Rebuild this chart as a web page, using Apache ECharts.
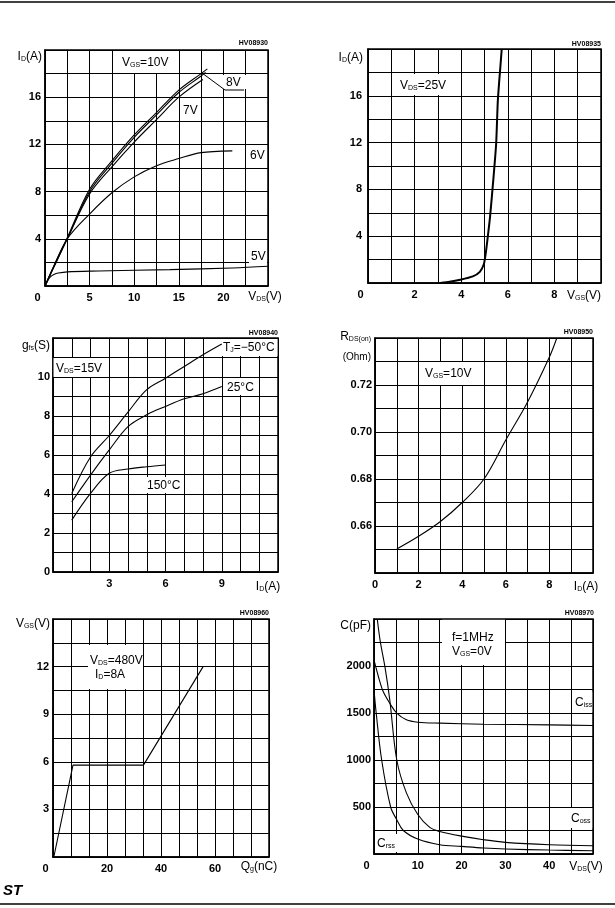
<!DOCTYPE html>
<html>
<head>
<meta charset="utf-8">
<script src="https://cdn.jsdelivr.net/npm/echarts@6/dist/echarts.min.js"></script>
<style>
html,body{margin:0;padding:0;background:#fff;}
#c{width:615px;height:908px;}
</style>
</head>
<body>
<div id="c"></div>
<script>
// ---------- DATA ----------
// Chart 1: Output characteristics ID vs VDS
const c1Vgs10 = [[0,0],[1,1.7],[2.5,4.1],[5,8.2],[7.5,10.6],[10,12.8],[12.5,14.7],[15,16.6],[17.5,18.0],[18.2,18.4]];
const c1Vgs8  = [[0,0],[1,1.65],[2.5,4.0],[5,8.0],[7.5,10.4],[10,12.6],[12.5,14.5],[15,16.4],[17.5,17.8],[18.0,18.1]];
const c1Vgs7  = [[0,0],[1,1.6],[2.5,4.0],[5,7.8],[7.5,10.1],[10,12.2],[12.5,14.1],[15,16.0],[17.7,17.5]];
const c1Vgs6  = [[0,0],[1,1.7],[2.5,4.0],[5,6.1],[7.5,7.9],[10,9.25],[12.5,10.2],[15,10.8],[17.5,11.3],[21,11.45]];
const c1Vgs5  = [[0,0],[0.3,0.45],[0.6,0.78],[1,0.98],[1.5,1.1],[2.5,1.2],[6,1.27],[14,1.39],[21,1.53],[25,1.67]];
const c1XLabels = [0,5,10,15,20];
const c1YLabels = [4,8,12,16];

// Chart 2: Transfer characteristics ID vs VGS
const c2Id = [[3.1,0],[3.5,0.1],[3.96,0.28],[4.5,0.57],[4.8,0.95],[4.97,1.6],[5.05,2.5],[5.12,3.6],[5.24,5.7],[5.39,9.1],[5.5,11.9],[5.57,15.5],[5.63,17.2],[5.67,18.2],[5.74,20]];
const c2XLabels = [0,2,4,6,8];
const c2YLabels = [4,8,12,16];

// Chart 3: Transconductance gfs vs ID
const c3TjM50 = [[1,4.03],[2,5.9],[3,7.0],[4,8.2],[5,9.35],[6,9.94],[7,10.54],[8,11.14],[9,11.69]];
const c3Tj25  = [[1,3.6],[2,4.97],[3,6.26],[4,7.46],[5,8.06],[6,8.49],[7,8.88],[8,9.14],[9,9.51]];
const c3Tj150 = [[1,2.66],[2,4.03],[3,5.06],[4,5.28],[5,5.4],[6,5.49]];
const c3XLabels = [3,6,9];
const c3YLabels = [0,2,4,6,8,10];

// Chart 4: Static drain-source on resistance
const c4Rds = [[1,0.6502],[2,0.6556],[3,0.6619],[4,0.67],[5,0.68],[6,0.6966],[7,0.7128],[8,0.7319],[8.34,0.74]];
const c4XLabels = [0,2,4,6,8];
const c4YLabels = [0.66,0.68,0.70,0.72];

// Chart 5: Gate charge vs gate-source voltage
const c5Vgs = [[0.3,0],[7.4,5.79],[33.5,5.79],[55.6,12.0]];
const c5XLabels = [0,20,40,60];
const c5YLabels = [3,6,9,12];

// Chart 6: Capacitance variations
const c6Ciss = [[0,2064],[1,1888],[2.1,1728],[3.6,1604],[5.2,1498],[7.4,1427],[10,1402],[15,1392],[25,1381],[40,1374],[50,1367]];
const c6Coss = [[0.75,2500],[1.4,2270],[2.5,1990],[3.6,1640],[5.2,1000],[7.4,650],[10,420],[12.8,280],[15,240],[20,190],[25,152],[30,124],[40,99],[50,88]];
const c6Crss = [[0,1746],[0.5,1500],[1.75,1000],[3.8,500],[5.2,365],[6.7,250],[10,159],[15,99],[20,81],[25,64],[30,53],[40,42],[50,35]];
const c6XLabels = [0,10,20,30,40];
const c6YLabels = [500,1000,1500,2000];

// ---------- LAYOUT / STYLE ----------
const FONT = '"Liberation Sans", Arial, Helvetica, sans-serif';
const grids = [
  {left:45, top:50, width:223, height:236},
  {left:368, top:49, width:233, height:234},
  {left:53, top:338, width:225, height:234},
  {left:375, top:338, width:218, height:235},
  {left:53, top:619, width:216, height:238},
  {left:374, top:619, width:219, height:235}
];
const axes = [
  {x:[0,25,2.5], y:[0,20,2], xl:c1XLabels, yl:c1YLabels, shift0:true, ym:4},
  {x:[0,10,1], y:[0,20,2], xl:c2XLabels, yl:c2YLabels, shift0:true, ym:6},
  {x:[0,12,1], y:[0,12,1], xl:c3XLabels, yl:c3YLabels, shift0:false, ym:3},
  {x:[0,10,1], y:[0.64,0.74,0.01], xl:c4XLabels, yl:c4YLabels, shift0:false, ym:3, ydec:2},
  {x:[0,80,80/12], y:[0,15,1.5], xl:c5XLabels, yl:c5YLabels, shift0:true, ym:4},
  {x:[0,50,5], y:[0,2500,250], xl:c6XLabels, yl:c6YLabels, shift0:true, ym:3}
];

function fmt(list, dec, shift0) {
  return function (v) {
    const hit = list.find(l => Math.abs(l - v) < 1e-6);
    if (hit === undefined) return '';
    const s = dec ? hit.toFixed(dec) : String(hit);
    return (shift0 && hit === 0) ? '{z|' + s + '}' : s;
  };
}
const labelBase = {color:'#000', fontSize:11, fontWeight:'bold', fontFamily:FONT};

const xAxis = [], yAxis = [];
axes.forEach((a, i) => {
  xAxis.push({
    type:'value', gridIndex:i, min:a.x[0], max:a.x[1], interval:a.x[2],
    axisLine:{show:true, onZero:false, lineStyle:{color:'#000', width:1.5}},
    axisTick:{show:false},
    splitLine:{show:true, lineStyle:{color:'#000', width:1}},
    axisLabel:Object.assign({margin:6, showMinLabel:true, showMaxLabel:true,
      formatter:fmt(a.xl, 0, a.shift0), rich:{z:{padding:[0,15,0,0], fontSize:11, fontWeight:'bold', fontFamily:FONT, color:'#000'}}}, labelBase)
  });
  yAxis.push({
    type:'value', gridIndex:i, min:a.y[0], max:a.y[1], interval:a.y[2],
    axisLine:{show:true, onZero:false, lineStyle:{color:'#000', width:1.5}},
    axisTick:{show:false},
    splitLine:{show:true, lineStyle:{color:'#000', width:1}},
    axisLabel:Object.assign({margin:a.ym, showMinLabel:true, showMaxLabel:true,
      formatter:fmt(a.yl, a.ydec || 0, false)}, labelBase)
  });
});

function line(i, data, opts) {
  return Object.assign({
    type:'line', xAxisIndex:i, yAxisIndex:i, data:data,
    symbol:'none', showSymbol:false, smooth:0.35,
    lineStyle:{color:'#000', width:1.1}, clip:true, silent:true, z:3
  }, opts || {});
}
const series = [
  line(0, c1Vgs10), line(0, c1Vgs8), line(0, c1Vgs7), line(0, c1Vgs6), line(0, c1Vgs5),
  line(1, c2Id, {smooth:0.2, lineStyle:{color:'#000', width:2}}),
  line(2, c3TjM50), line(2, c3Tj25), line(2, c3Tj150),
  line(3, c4Rds),
  line(4, c5Vgs, {smooth:false}),
  line(5, c6Ciss), line(5, c6Coss), line(5, c6Crss)
];

// ---------- TEXT ANNOTATIONS ----------
const rich = {
  n:{fontSize:12, fontFamily:FONT, fill:'#000', color:'#000', lineHeight:14, verticalAlign:'bottom'},
  s:{fontSize:7, fontFamily:FONT, fill:'#000', color:'#000', lineHeight:11, verticalAlign:'bottom'}
};
function rt(parts) {
  return parts.map(p => p.charAt(0) === '_' ? '{s|' + p.slice(1) + '}' : '{n|' + p + '}').join('');
}
function T(x, y, parts, align, size) {
  const r = JSON.parse(JSON.stringify(rich));
  if (size) { r.n.fontSize = size; }
  return {type:'text', x:x, y:y, z:60, silent:true,
    style:{text:rt(parts), rich:r, fill:'#000', align:align || 'left', textAlign:align || 'left',
      verticalAlign:'middle', textVerticalAlign:'middle'}};
}
function code(xRight, y, s) {
  return {type:'text', x:xRight, y:y, z:60, silent:true,
    style:{text:s, fill:'#000', font:'bold 7px ' + FONT, align:'right', textAlign:'right',
      verticalAlign:'middle', textVerticalAlign:'middle'}};
}
function box(x1, y1, x2, y2) {
  return {type:'rect', z:50, silent:true, shape:{x:x1, y:y1, width:x2 - x1, height:y2 - y1}, style:{fill:'#fff'}};
}

const graphic = [
  // page rules
  {type:'line', z:60, shape:{x1:0, y1:2, x2:615, y2:2}, style:{stroke:'#000', lineWidth:1.5}},
  {type:'line', z:60, shape:{x1:0, y1:904, x2:615, y2:904}, style:{stroke:'#000', lineWidth:1.5}},
  {type:'text', z:60, x:3, y:891, style:{text:'ST', fill:'#000', font:'italic bold 15px ' + FONT,
    align:'left', textAlign:'left', verticalAlign:'middle', textVerticalAlign:'middle'}},

  // chart 1
  code(268, 43, 'HV08930'),
  T(42, 56, ['I','_D','(A)'], 'right'),
  box(113, 51, 173, 73), T(122, 62, ['V','_GS','=10V']),
  box(223, 75, 247, 89), T(226, 82, ['8V']),
  {type:'polyline', z:60, shape:{points:[[202,73],[225,90],[244,90]]}, style:{stroke:'#000', fill:null, lineWidth:1}},
  box(181, 102, 199, 118), T(183, 110, ['7V']),
  box(248, 148, 266, 163), T(250, 155, ['6V']),
  box(249, 249, 267, 263), T(251, 256, ['5V']),
  T(265, 296, ['V','_DS','(V)'], 'center'),

  // chart 2
  code(601, 44, 'HV08935'),
  T(363, 57, ['I','_D','(A)'], 'right'),
  box(397, 74, 450, 95), T(400, 85, ['V','_DS','=25V']),
  T(584, 295, ['V','_GS','(V)'], 'center'),

  // chart 3
  code(278, 333, 'HV08940'),
  T(50, 345, ['g','_fs','(S)'], 'right'),
  box(53.5, 358, 107, 377), T(56, 368, ['V','_DS','=15V']),
  box(222, 339, 277.5, 356), T(223, 347, ['T','_J','=\u221250\u00b0C']),
  box(223, 378, 257, 395), T(227, 387, ['25\u00b0C']),
  box(145, 477, 184, 493), T(147, 485, ['150\u00b0C']),
  T(268, 586, ['I','_D','(A)'], 'center'),

  // chart 4
  code(593, 332, 'HV08950'),
  T(371, 336, ['R','_DS(on)'], 'right'),
  T(371, 355, ['(Ohm)'], 'right', 10),
  box(421, 362, 471, 385), T(425, 373, ['V','_GS','=10V']),
  T(586, 586, ['I','_D','(A)'], 'center'),

  // chart 5
  code(269, 613, 'HV08960'),
  T(50, 623, ['V','_GS','(V)'], 'right'),
  box(88, 645, 143, 689), T(90, 660, ['V','_DS','=480V']), T(95, 674, ['I','_D','=8A']),
  T(259, 866, ['Q','_g','(nC)'], 'center'),

  // chart 6
  code(594, 613, 'HV08970'),
  T(371, 625, ['C(pF)'], 'right'),
  box(442, 619.8, 505, 665), T(452, 637, ['f=1MHz']), T(452, 651, ['V','_GS','=0V']),
  box(573, 692, 592.2, 712), T(575, 702, ['C','_iss']),
  box(569, 808, 592.2, 828), T(571, 818, ['C','_oss']),
  box(375, 834, 397, 852), T(377, 843, ['C','_rss']),
  T(586, 866, ['V','_DS','(V)'], 'center')
];

const chart = echarts.init(document.getElementById('c'), null, {renderer:'canvas'});
chart.setOption({
  backgroundColor:'#fff',
  animation:false,
  grid:grids.map(g => Object.assign({show:true, borderColor:'#000', borderWidth:1.5, containLabel:false}, g)),
  xAxis:xAxis,
  yAxis:yAxis,
  series:series,
  graphic:graphic
});
</script>
</body>
</html>
